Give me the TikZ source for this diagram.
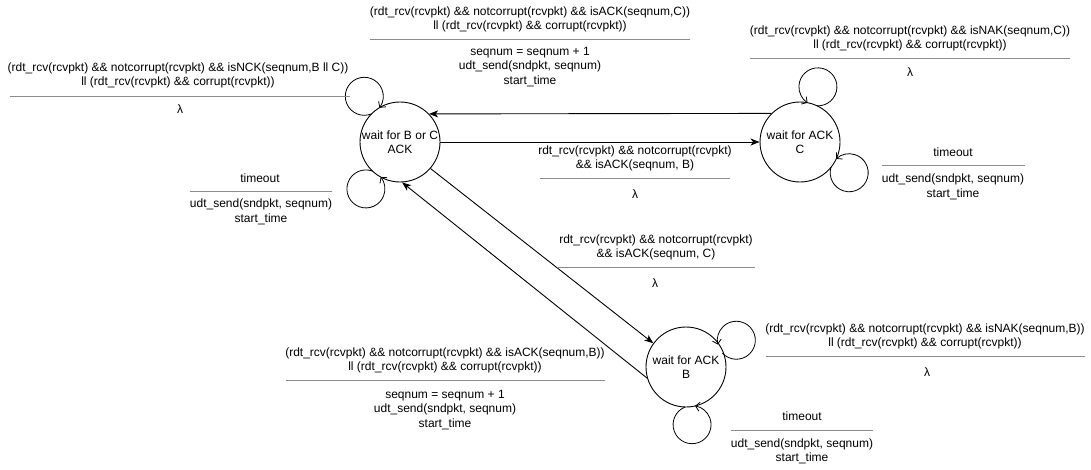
\documentclass[tikz,border=0pt]{standalone}
\usepackage{fontspec}
\setmainfont{Liberation Sans}
\usetikzlibrary{arrows.meta,calc}
\definecolor{sepgray}{RGB}{140,140,140}
\begin{document}
\begin{tikzpicture}[x=1pt,y=1pt,line width=0.9pt,
  state/.style={circle,draw,minimum size=80pt,inner sep=0pt,align=center,font=\fontsize{12}{14.4}\selectfont},
  lbl/.style={align=center,inner sep=0pt,font=\fontsize{12}{14.5}\selectfont},
  sepline/.style={draw=sepgray,line width=0.9pt},
  tr/.style={-{Stealth[length=9pt,width=7pt,inset=2.5pt]}},
  lp/.style={-{Straight Barb[length=4pt,width=9pt]},line width=0.8pt}]
\useasboundingbox (0,0) rectangle (1091,-469);

% states
\node[state] (A) at (400,-142) {wait for B or C\\ACK};
\node[state] (C) at (800,-142) {wait for ACK\\C};
\node[state] (B) at (686,-367) {wait for ACK\\B};

% transitions
\draw[tr] (C.135.6) -- (A.44.4);
\draw[tr] (A.east) -- (C.west);
\draw[tr] (A.-41) -- (B.144);
\draw[tr] (B.196) -- (A.-87);

% self loops
\coordinate (lA1) at ($(A)+(128:58pt)$);
\coordinate (lA2) at ($(A)+(234:58pt)$);
\coordinate (lC1) at ($(C)+(72:58pt)$);
\coordinate (lC2) at ($(C)+(-32:58pt)$);
\coordinate (lB1) at ($(B)+(28:57pt)$);
\coordinate (lB2) at ($(B)+(-84:58pt)$);
\draw[lp] ($(lA1)+(293:19pt)$) arc[start angle=293,end angle=-37,radius=19pt];
\draw[lp] ($(lA2)+(69:19pt)$) arc[start angle=69,end angle=399,radius=19pt];
\draw[lp] ($(lC1)+(267:19pt)$) arc[start angle=267,end angle=597,radius=19pt];
\draw[lp] ($(lC2)+(163:19pt)$) arc[start angle=163,end angle=493,radius=19pt];
\draw[lp] ($(lB1)+(223:19pt)$) arc[start angle=223,end angle=553,radius=19pt];
\draw[lp] ($(lB2)+(111:19pt)$) arc[start angle=111,end angle=441,radius=19pt];

% label 1 (C -> A)
\node[lbl] (t1) at (530,-19.5) {(rdt\_rcv(rcvpkt) \&\& notcorrupt(rcvpkt) \&\& isACK(seqnum,C))\\ll (rdt\_rcv(rcvpkt) \&\& corrupt(rcvpkt))};
\draw[sepline] (370,-39) -- (690,-39);
\node[lbl] (b1) at (530,-67) {seqnum = seqnum + 1\\udt\_send(sndpkt, seqnum)\\start\_time};

% label 2 (A loop top)
\node[lbl] (t2) at (178,-75.5) {(rdt\_rcv(rcvpkt) \&\& notcorrupt(rcvpkt) \&\& isNCK(seqnum,B ll C))\\ll (rdt\_rcv(rcvpkt) \&\& corrupt(rcvpkt))};
\draw[sepline] (10,-96) -- (350,-96);
\node[lbl] (b2) at (180,-109) {λ};

% label 3 (A loop bottom)
\node[lbl] (t3) at (260,-178) {timeout};
\draw[sepline] (190,-191) -- (332,-191);
\node[lbl] (b3) at (261,-212) {udt\_send(sndpkt, seqnum)\\start\_time};

% label 4 (A -> C)
\node[lbl] (t4) at (635,-158.5) {rdt\_rcv(rcvpkt) \&\& notcorrupt(rcvpkt)\\\&\& isACK(seqnum, B)};
\draw[sepline] (540,-178) -- (730,-178);
\node[lbl] (b4) at (635,-194) {λ};

% label 5 (C loop top)
\node[lbl] (t5) at (910,-38.5) {(rdt\_rcv(rcvpkt) \&\& notcorrupt(rcvpkt) \&\& isNAK(seqnum,C))\\ll (rdt\_rcv(rcvpkt) \&\& corrupt(rcvpkt))};
\draw[sepline] (750,-58) -- (1070,-58);
\node[lbl] (b5) at (910,-72) {λ};

% label 6 (C loop bottom)
\node[lbl] (t6) at (953,-152) {timeout};
\draw[sepline] (882,-165) -- (1025,-165);
\node[lbl] (b6) at (953,-187) {udt\_send(sndpkt, seqnum)\\start\_time};

% label 7 (A -> B)
\node[lbl] (t7) at (656,-247.5) {rdt\_rcv(rcvpkt) \&\& notcorrupt(rcvpkt)\\\&\& isACK(seqnum, C)};
\draw[sepline] (557,-267) -- (755,-267);
\node[lbl] (b7) at (655,-283) {λ};

% label 8 (B -> A)
\node[lbl] (t8) at (445,-360.5) {(rdt\_rcv(rcvpkt) \&\& notcorrupt(rcvpkt) \&\& isACK(seqnum,B))\\ll (rdt\_rcv(rcvpkt) \&\& corrupt(rcvpkt))};
\draw[sepline] (286,-380) -- (605,-380);
\node[lbl] (b8) at (445,-410) {seqnum = seqnum + 1\\udt\_send(sndpkt, seqnum)\\start\_time};

% label 9 (B loop right)
\node[lbl] (t9) at (925,-336.5) {(rdt\_rcv(rcvpkt) \&\& notcorrupt(rcvpkt) \&\& isNAK(seqnum,B))\\ll (rdt\_rcv(rcvpkt) \&\& corrupt(rcvpkt))};
\draw[sepline] (766,-356) -- (1085,-356);
\node[lbl] (b9) at (927,-372) {λ};

% label 10 (B loop bottom)
\node[lbl] (t10) at (802,-416) {timeout};
\draw[sepline] (731,-430) -- (873,-430);
\node[lbl] (b10) at (802,-451.5) {udt\_send(sndpkt, seqnum)\\start\_time};
\end{tikzpicture}
\end{document}
